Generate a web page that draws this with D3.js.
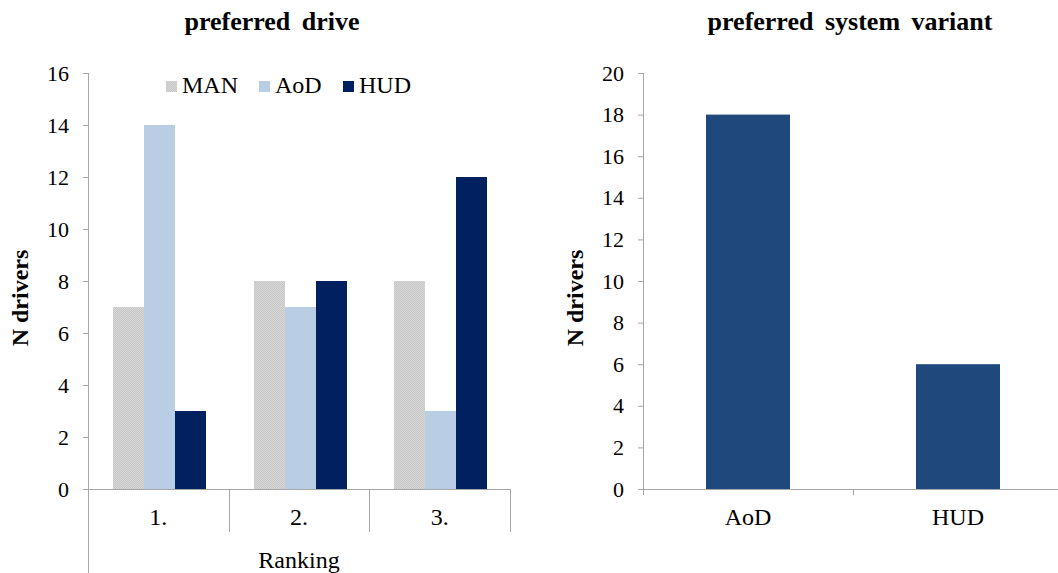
<!DOCTYPE html>
<html>
<head>
<meta charset="utf-8">
<script src="https://cdn.jsdelivr.net/npm/d3@7"></script>
<style>
  html, body { margin: 0; padding: 0; background: #fff; }
  svg { display: block; }
  svg text { font-family: "Liberation Serif", "Times New Roman", serif; fill: #000; }
</style>
</head>
<body>
<svg id="chart" width="1058" height="573"></svg>
<script>
// Left panel: preferred drive by ranking position
const rankings = ["1.", "2.", "3."];
const driveSeries = ["MAN", "AoD", "HUD"];
const manValues = [7, 8, 8];
const aodValues = [14, 7, 3];
const hudValues = [3, 8, 12];
const leftTicks = [0, 2, 4, 6, 8, 10, 12, 14, 16];

// Right panel: preferred system variant
const variants = ["AoD", "HUD"];
const variantValues = [18, 6];
const rightTicks = [0, 2, 4, 6, 8, 10, 12, 14, 16, 18, 20];

const svg = d3.select("#chart");
const axisColor = "#a6a6a6";
const tickFont = 22;
const labelFont = 24;
const seriesColors = { MAN: "url(#manPattern)", AoD: "#b9cde5", HUD: "#002060" };

// Fine checker texture for the MAN series
const defs = svg.append("defs");
const pat = defs.append("pattern").attr("id", "manPattern")
  .attr("patternUnits", "userSpaceOnUse").attr("width", 2).attr("height", 2);
pat.append("rect").attr("width", 2).attr("height", 2).attr("fill", "#d8d8d8");
pat.append("rect").attr("width", 1).attr("height", 1).attr("fill", "#c6c6c6");
pat.append("rect").attr("x", 1).attr("y", 1).attr("width", 1).attr("height", 1).attr("fill", "#c6c6c6");

/* ---------- left panel ---------- */
const L = { x0: 88, x1: 510, y0: 489, y1: 73 };
const yL = d3.scaleLinear().domain([0, 16]).range([L.y0, L.y1]);
const xL = d3.scaleBand().domain(rankings).range([L.x0, L.x1]).paddingInner(0).paddingOuter(0);
const xSub = d3.scaleBand().domain(driveSeries).range([0, xL.bandwidth()]).paddingOuter(0.77).paddingInner(0);

const leftData = rankings.map((r, i) => ({
  rank: r,
  values: [
    { key: "MAN", v: manValues[i] },
    { key: "AoD", v: aodValues[i] },
    { key: "HUD", v: hudValues[i] }
  ]
}));

const gL = svg.append("g");
gL.selectAll("g.grp").data(leftData).join("g").attr("class", "grp")
  .attr("transform", d => `translate(${Math.round(xL(d.rank)) + 1},0)`)
  .selectAll("rect").data(d => d.values).join("rect")
  .attr("x", d => Math.round(xSub(d.key)))
  .attr("width", Math.round(xSub.bandwidth()))
  .attr("y", d => yL(d.v))
  .attr("height", d => yL(0) - yL(d.v))
  .attr("fill", d => seriesColors[d.key]);

// y axis
const yAxisL = d3.axisLeft(yL).tickValues(leftTicks).tickSize(5).tickPadding(14);
const gyL = svg.append("g").attr("transform", `translate(${L.x0},0)`).call(yAxisL);
gyL.select(".domain").remove();
gyL.selectAll(".tick line").attr("stroke", axisColor);
gyL.selectAll(".tick text").attr("font-size", tickFont)
  .attr("font-family", "Liberation Serif").attr("fill", "#000");
// vertical axis line extending through the category label area
svg.append("line").attr("x1", L.x0 + 0.5).attr("x2", L.x0 + 0.5)
  .attr("y1", L.y1).attr("y2", 573).attr("stroke", axisColor);
// x axis baseline
svg.append("line").attr("x1", L.x0).attr("x2", L.x1 + 0.5)
  .attr("y1", L.y0 + 0.5).attr("y2", L.y0 + 0.5).attr("stroke", axisColor);
// category separators
const seps = rankings.slice(1).map(r => xL(r)).concat([L.x1]);
svg.selectAll("line.sepL").data(seps).join("line").attr("class", "sepL")
  .attr("x1", d => Math.round(d) + 0.5).attr("x2", d => Math.round(d) + 0.5)
  .attr("y1", L.y0).attr("y2", 532).attr("stroke", axisColor);
// category labels
svg.selectAll("text.catL").data(rankings).join("text").attr("class", "catL")
  .attr("x", d => xL(d) + xL.bandwidth() / 2).attr("y", 525)
  .attr("text-anchor", "middle").attr("font-size", labelFont).text(d => d);
svg.append("text").attr("x", (L.x0 + L.x1) / 2).attr("y", 568)
  .attr("text-anchor", "middle").attr("font-size", labelFont).text("Ranking");

// y title
svg.append("text").attr("transform", `translate(28,${(L.y0 + L.y1) / 2 + 17}) rotate(-90)`)
  .attr("text-anchor", "middle").attr("font-size", 24).attr("font-weight", "bold")
  .text("N drivers");
// title
svg.append("text").attr("x", 272).attr("y", 30).attr("text-anchor", "middle")
  .attr("font-size", 26).attr("font-weight", "bold").attr("word-spacing", 5)
  .text("preferred drive");

// legend
const legendX = [166, 259, 343];
const lg = svg.selectAll("g.leg").data(driveSeries).join("g").attr("class", "leg")
  .attr("transform", (d, i) => `translate(${legendX[i]},81)`);
lg.append("rect").attr("width", 11).attr("height", 11).attr("fill", d => seriesColors[d]);
lg.append("text").attr("x", 16).attr("y", 12).attr("font-size", labelFont).text(d => d);

/* ---------- right panel ---------- */
const R = { x0: 643, x1: 1063, y0: 489, y1: 73 };
const yR = d3.scaleLinear().domain([0, 20]).range([R.y0, R.y1]);
const xR = d3.scaleBand().domain(variants).range([R.x0, R.x1]).paddingInner(0.6).paddingOuter(0.3);
const xRcat = d3.scaleBand().domain(variants).range([R.x0, R.x1]);

svg.append("g").selectAll("rect").data(variants.map((v, i) => ({ v, n: variantValues[i] })))
  .join("rect")
  .attr("x", d => xR(d.v)).attr("width", xR.bandwidth())
  .attr("y", d => yR(d.n)).attr("height", d => yR(0) - yR(d.n))
  .attr("fill", "#1f497d");

const yAxisR = d3.axisLeft(yR).tickValues(rightTicks).tickSize(5).tickPadding(14);
const gyR = svg.append("g").attr("transform", `translate(${R.x0},0)`).call(yAxisR);
gyR.select(".domain").remove();
gyR.selectAll(".tick line").attr("stroke", axisColor);
gyR.selectAll(".tick text").attr("font-size", tickFont)
  .attr("font-family", "Liberation Serif").attr("fill", "#000");
svg.append("line").attr("x1", R.x0 + 0.5).attr("x2", R.x0 + 0.5)
  .attr("y1", R.y1).attr("y2", R.y0 + 6).attr("stroke", axisColor);
svg.append("line").attr("x1", R.x0 - 5).attr("x2", 1058)
  .attr("y1", R.y0 + 0.5).attr("y2", R.y0 + 0.5).attr("stroke", axisColor);
// category boundary tick
svg.append("line").attr("x1", Math.round(xRcat("HUD")) + 0.5).attr("x2", Math.round(xRcat("HUD")) + 0.5)
  .attr("y1", R.y0).attr("y2", R.y0 + 6).attr("stroke", axisColor);
svg.selectAll("text.catR").data(variants).join("text").attr("class", "catR")
  .attr("x", d => xRcat(d) + xRcat.bandwidth() / 2).attr("y", 525)
  .attr("text-anchor", "middle").attr("font-size", labelFont).text(d => d);

svg.append("text").attr("transform", `translate(583,${(R.y0 + R.y1) / 2 + 17}) rotate(-90)`)
  .attr("text-anchor", "middle").attr("font-size", 24).attr("font-weight", "bold")
  .text("N drivers");
svg.append("text").attr("x", 850).attr("y", 30).attr("text-anchor", "middle")
  .attr("font-size", 26).attr("font-weight", "bold").attr("word-spacing", 5)
  .text("preferred system variant");
</script>
</body>
</html>
